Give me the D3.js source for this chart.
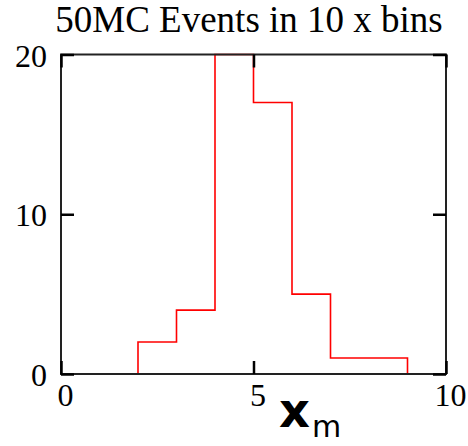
<!DOCTYPE html>
<html>
<head>
<meta charset="utf-8">
<script src="https://cdn.jsdelivr.net/npm/d3@7"></script>
<style>
  body { margin: 0; background: #fff; }
  .axis path { display: none; }
  .axis line { stroke: #000; stroke-width: 2.5px; }
  .axis text { font-family: "Liberation Serif", "Times New Roman", serif; font-size: 32px; fill: #000; }
</style>
</head>
<body>
<div class="hist-chart"></div>
<script>
// histogram data: bin edges and counts (50 MC events)
var binEdges = [2, 3, 4, 5, 6, 7, 8, 9];
var counts = [2, 4, 20, 17, 5, 1, 1];
var xTicks = [0, 5, 10];
var yTicks = [0, 10, 20];

var margin = {top: 54.5, right: 22, bottom: 72, left: 61},
    width = 468 - margin.left - margin.right,
    height = 446 - margin.top - margin.bottom;

var x = d3.scaleLinear().domain([0, 10]).range([0, width]);
var y = d3.scaleLinear().domain([0, 20]).range([height, 0]);

var svg = d3.select(".hist-chart").append("svg")
    .attr("width", 468)
    .attr("height", 446)
  .append("g")
    .attr("transform", `translate(${margin.left}, ${margin.top})`);

// title
svg.append("text")
    .attr("x", 249 - margin.left)
    .attr("y", 32 - margin.top)
    .style("text-anchor", "middle")
    .style("font-family", "'Liberation Serif', 'Times New Roman', serif")
    .style("font-size", "37px")
    .text("50MC Events in 10 x bins");

// step line built from bins
var steps = [[binEdges[0], 0]];
counts.forEach(function(c, i) {
    steps.push([binEdges[i], c]);
    steps.push([binEdges[i + 1], c]);
});
steps.push([binEdges[binEdges.length - 1], 0]);

var line = d3.line()
    .x(function(d) { return x(d[0]); })
    .y(function(d) { return y(d[1]); });

svg.append("path")
    .datum(steps)
    .attr("d", line)
    .style("fill", "none")
    .style("stroke", "#ff0000")
    .style("stroke-width", "1.6px");

// frame
svg.append("rect")
    .attr("width", width)
    .attr("height", height)
    .style("fill", "none")
    .style("stroke", "#222")
    .style("stroke-width", "2px");

// axes with inward ticks
svg.append("g")
    .attr("class", "axis")
    .attr("transform", `translate(0, ${height})`)
    .call(d3.axisBottom(x).tickValues(xTicks).tickSizeInner(-13).tickSizeOuter(0).tickPadding(9))
    .selectAll("text").attr("dx", 4);

svg.append("g")
    .attr("class", "axis")
    .call(d3.axisTop(x).tickValues(xTicks).tickSizeInner(-13).tickSizeOuter(0).tickFormat(""));

svg.append("g")
    .attr("class", "axis")
    .call(d3.axisLeft(y).tickValues(yTicks).tickSizeInner(-13).tickSizeOuter(0).tickPadding(14))
    .selectAll("text").attr("dy", "0.36em");

svg.append("g")
    .attr("class", "axis")
    .attr("transform", `translate(${width}, 0)`)
    .call(d3.axisRight(y).tickValues(yTicks).tickSizeInner(-13).tickSizeOuter(0).tickFormat(""));

// x axis label: x with subscript m
var label = svg.append("text")
    .attr("x", 279 - margin.left)
    .attr("y", 427 - margin.top)
    .style("font-family", "'DejaVu Sans', sans-serif")
    .style("fill", "#000");
label.append("tspan")
    .style("font-size", "48px")
    .style("font-weight", "bold")
    .text("x");
label.append("tspan")
    .attr("dy", 10)
    .attr("dx", 2)
    .style("font-size", "30px")
    .text("m");
</script>
</body>
</html>
